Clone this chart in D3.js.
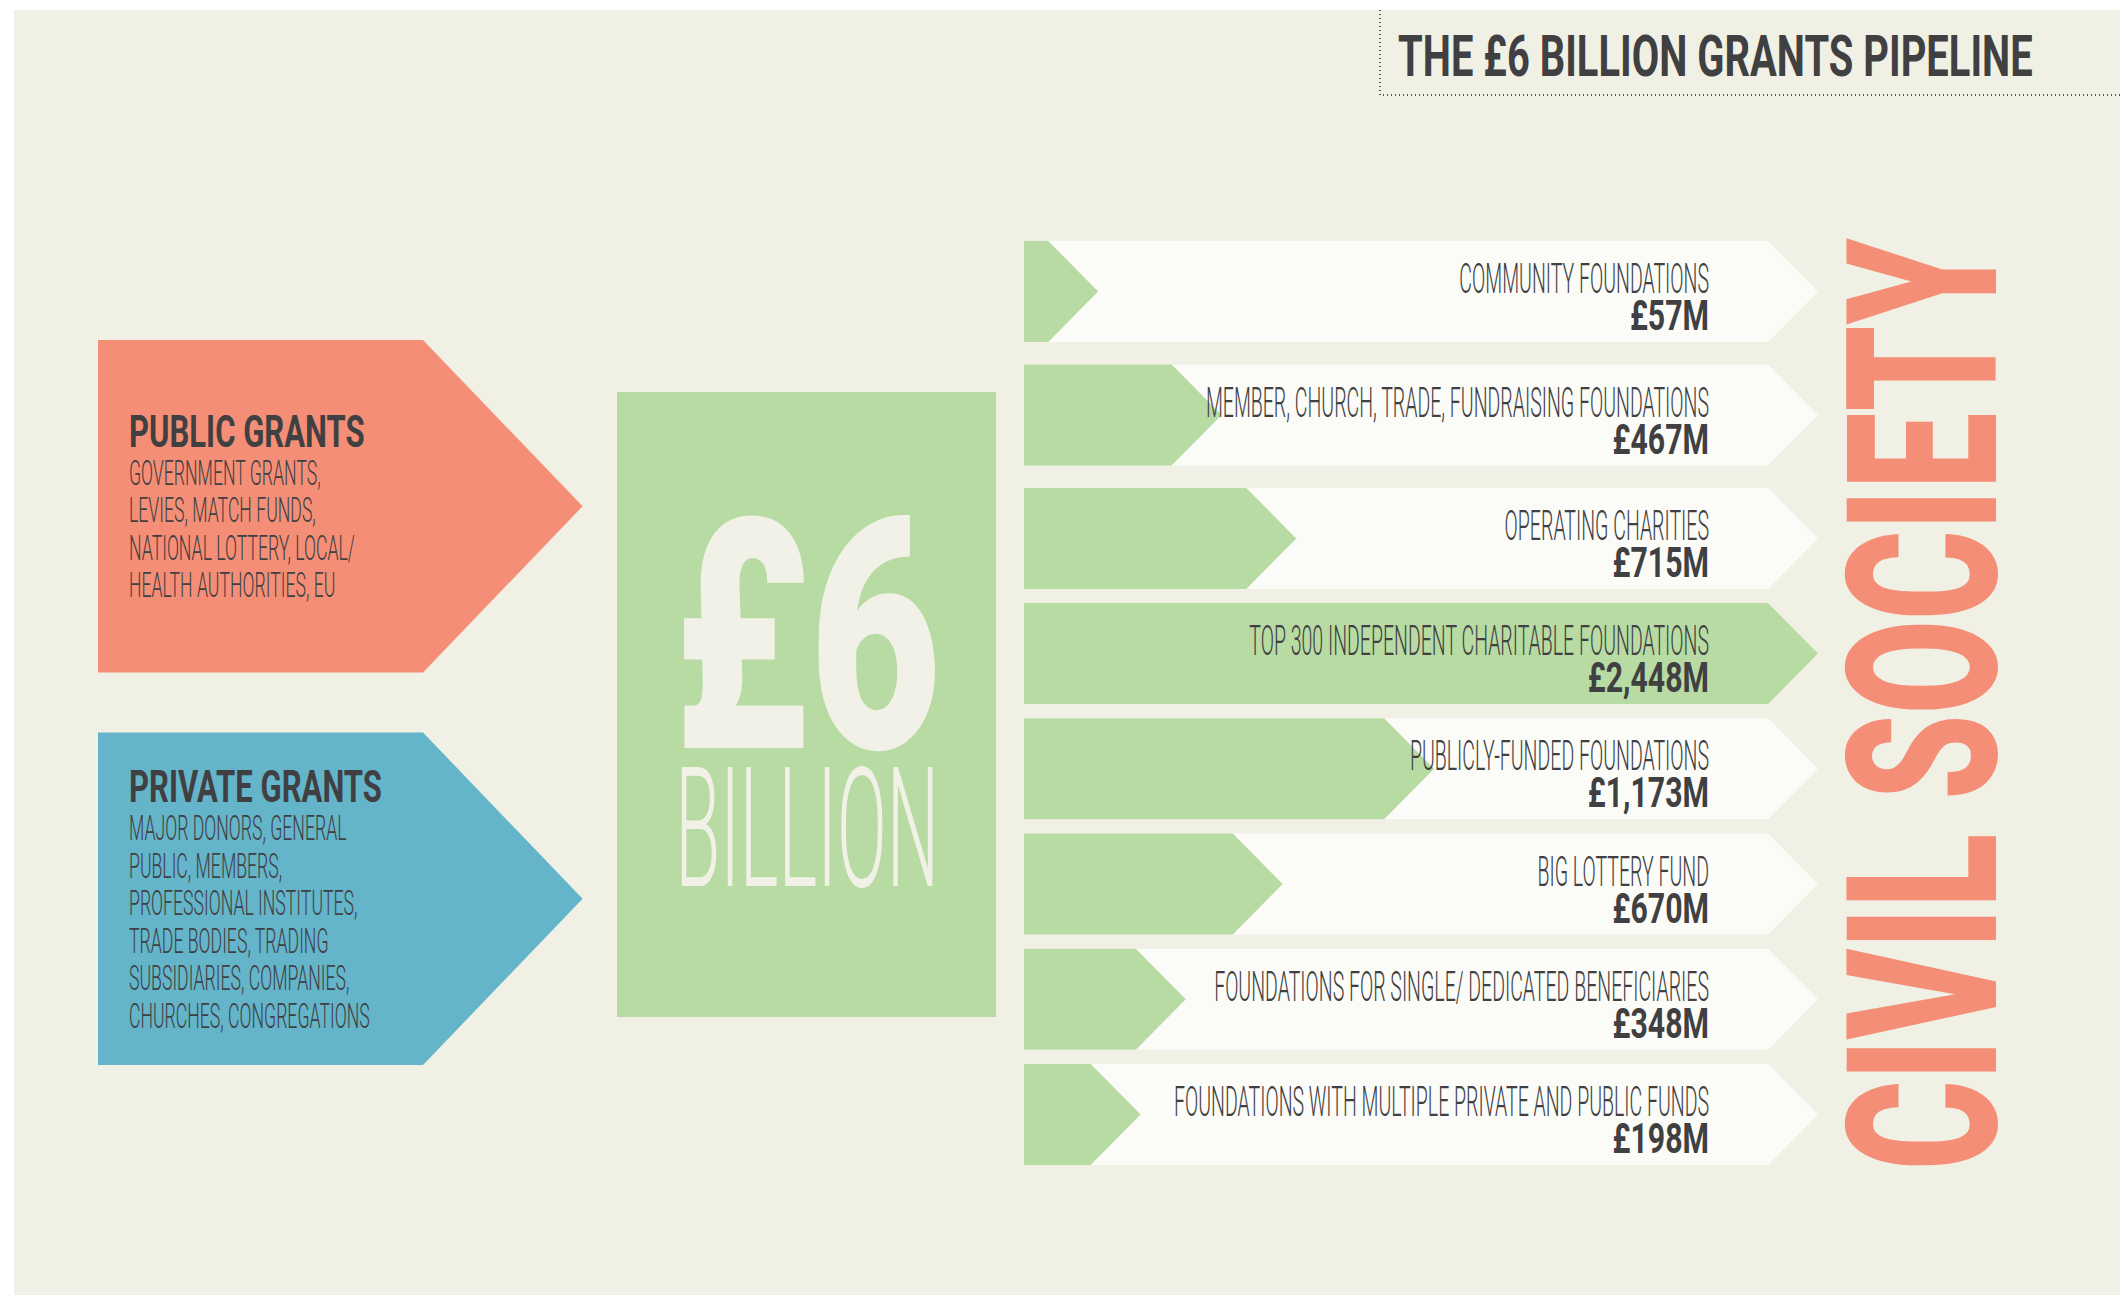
<!DOCTYPE html>
<html>
<head>
<meta charset="utf-8">
<script src="https://cdnjs.cloudflare.com/ajax/libs/d3/7.8.5/d3.min.js"></script>
<style>
  body { margin: 0; background: #fff; }
  text { font-family: Roboto, "Liberation Sans", sans-serif; fill: #404042; }
</style>
</head>
<body>
<script>
const w = 2120;
const h = 1295;

// data
const title = "THE £6 BILLION GRANTS PIPELINE";
const sources = ["PUBLIC GRANTS", "PRIVATE GRANTS"];
const sourceLines = [
  ["GOVERNMENT GRANTS,", "LEVIES, MATCH FUNDS,", "NATIONAL LOTTERY, LOCAL/", "HEALTH AUTHORITIES, EU"],
  ["MAJOR DONORS, GENERAL", "PUBLIC, MEMBERS,", "PROFESSIONAL INSTITUTES,", "TRADE BODIES, TRADING",
   "SUBSIDIARIES, COMPANIES,", "CHURCHES, CONGREGATIONS"]
];
const totalAmount = "£6";
const totalUnit = "BILLION";
const recipients = [
  "COMMUNITY FOUNDATIONS",
  "MEMBER, CHURCH, TRADE, FUNDRAISING FOUNDATIONS",
  "OPERATING CHARITIES",
  "TOP 300 INDEPENDENT CHARITABLE FOUNDATIONS",
  "PUBLICLY-FUNDED FOUNDATIONS",
  "BIG LOTTERY FUND",
  "FOUNDATIONS FOR SINGLE/ DEDICATED BENEFICIARIES",
  "FOUNDATIONS WITH MULTIPLE PRIVATE AND PUBLIC FUNDS"
];
const amounts = [57, 467, 715, 2448, 1173, 670, 348, 198]; // £M
const destination = "CIVIL SOCIETY";

const salmon = "#f58e76";
const blue = "#64b4ca";
const green = "#b8dba3";
const paper = "#f0f0e4";
const light = "#f2f1e7";

const svg = d3.select("body").append("svg").attr("width", w).attr("height", h);

svg.append("rect").attr("x", 14).attr("y", 10).attr("width", w - 14).attr("height", h - 10).attr("fill", paper);

// text squeezed horizontally to mimic a condensed face
function squeezed(g, str, x, y, size, weight, sx, anchor) {
  return g.append("text")
    .attr("transform", "translate(" + x + "," + y + ") scale(" + sx + ",1)")
    .attr("text-anchor", anchor || "start")
    .style("font-size", size + "px")
    .style("font-weight", weight)
    .text(str);
}

// title box
svg.append("path")
  .attr("d", "M1380,10 V95 H" + w)
  .attr("fill", "none")
  .attr("stroke", "#555")
  .attr("stroke-width", 2)
  .attr("stroke-dasharray", "1,3");
squeezed(svg, title, 1398, 76, 57, 700, 0.7);

// sources (left arrows)
const yScale = d3.scaleBand().domain(sources).range([340, 1065]).paddingInner(0.153);
const srcColor = d3.scaleOrdinal().domain(sources).range([salmon, blue]);
const srcLeft = 98, srcBody = 423;

sources.forEach(function (s, i) {
  const top = yScale(s), bh = yScale.bandwidth(), mid = top + bh / 2;
  const tip = srcBody + bh * 0.48;
  svg.append("path")
    .attr("d", d3.line()([[srcLeft, top], [srcBody, top], [tip, mid], [srcBody, top + bh], [srcLeft, top + bh]]) + "Z")
    .attr("fill", srcColor(s));
  const lines = sourceLines[i];
  const blockH = 32 + 38 + (lines.length - 1) * 37.5;
  const y0 = mid - blockH / 2 + 32;
  squeezed(svg, s, srcLeft + 31, y0, 45, 700, 0.69);
  lines.forEach(function (l, j) {
    squeezed(svg, l, srcLeft + 31, y0 + 38 + j * 37.5, 35, 300, 0.505);
  });
});

// total box
svg.append("rect").attr("x", 617).attr("y", 392).attr("width", 379).attr("height", 625).attr("fill", green);
squeezed(svg, totalAmount, 807, 748, 323, 900, 0.705, "middle").style("fill", light);
squeezed(svg, totalUnit, 807, 886, 167, 300, 0.44, "middle").style("fill", light);

// recipients (right arrows)
const rowY = d3.scaleLinear().domain([0, 2, 3, 7]).range([241, 488, 603, 1064]);
const rowH = 101;
const left = 1024, bodyEnd = 1768, depth = 50;
const x = d3.scaleLinear().domain([0, d3.max(amounts)]).range([1031, bodyEnd]);
const fmt = d3.format(",");

const rows = svg.selectAll("g.row")
  .data(recipients)
  .enter()
  .append("g")
  .attr("class", "row")
  .attr("transform", (d, i) => "translate(0," + rowY(i) + ")");

function arrow(end) {
  return d3.line()([[left, 0], [end, 0], [end + depth, rowH / 2], [end, rowH], [left, rowH]]) + "Z";
}

rows.append("path").attr("d", arrow(bodyEnd)).attr("fill", "#fbfbf8");
rows.append("path").attr("d", (d, i) => arrow(x(amounts[i]))).attr("fill", green);

rows.each(function (d, i) {
  const g = d3.select(this);
  squeezed(g, d, 1709, 52, 42, 300, 0.465, "end");
  squeezed(g, "£" + fmt(amounts[i]) + "M", 1709, 89, 42, 700, 0.72, "end");
});

// destination
svg.append("text")
  .attr("transform", "translate(1996,1170) rotate(-90) scale(0.65,1)")
  .style("font-size", "210px")
  .style("font-weight", 900)
  .style("fill", salmon)
  .text(destination);
</script>
</body>
</html>
